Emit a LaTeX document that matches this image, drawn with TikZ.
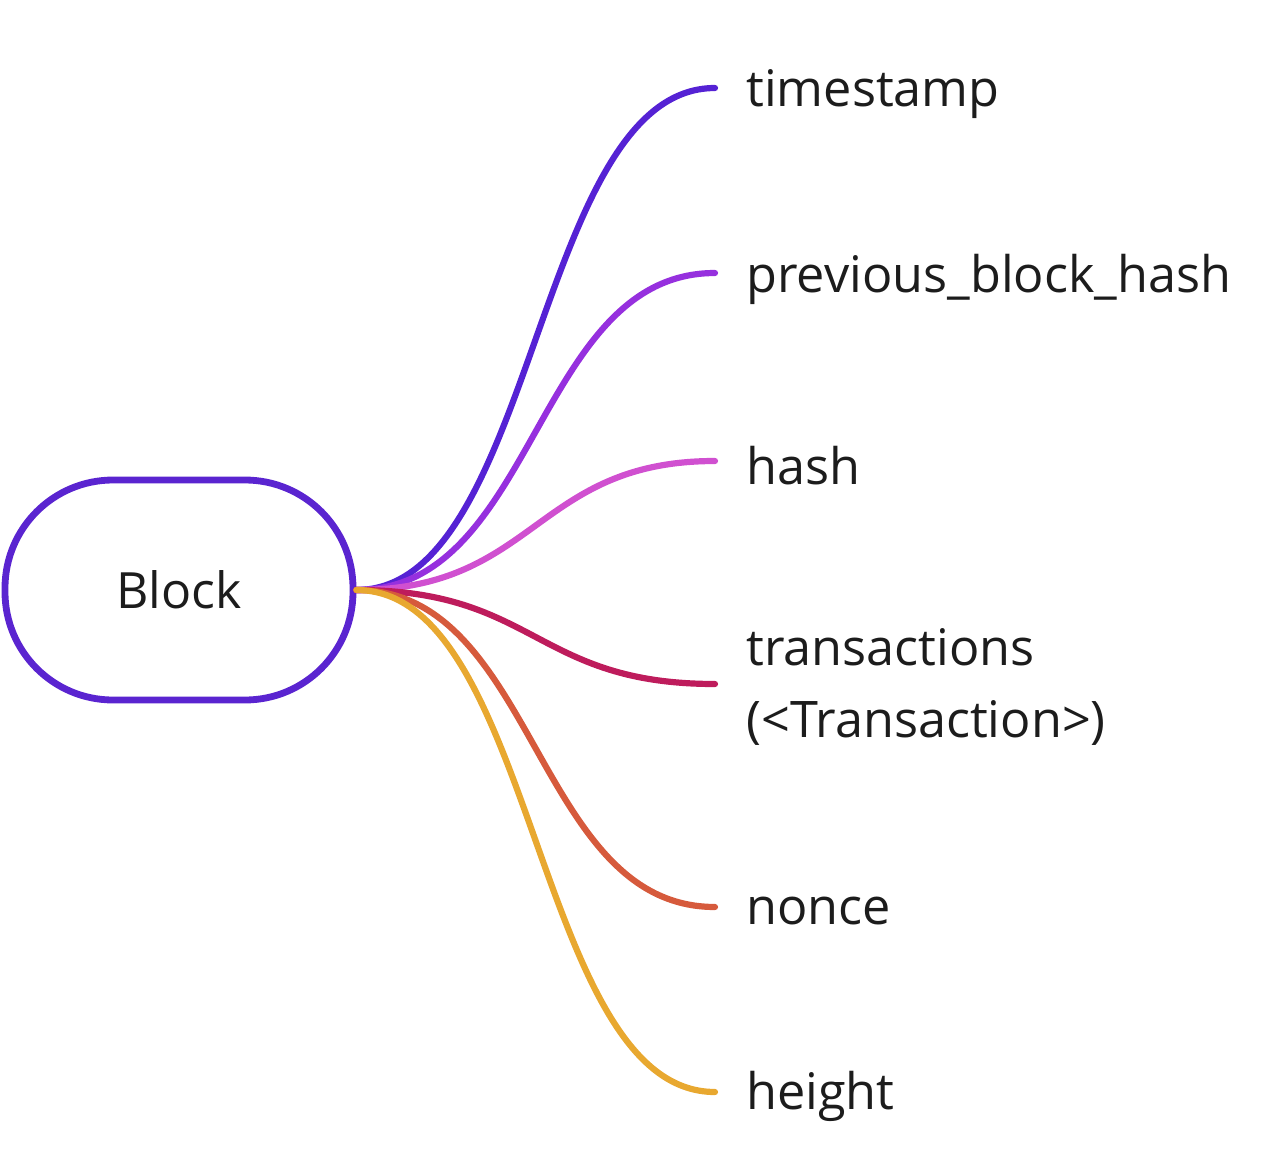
\documentclass[tikz,border=0pt]{standalone}
\usepackage{fontspec}
\setmainfont{Open Sans}
\definecolor{cA}{HTML}{5522D4}
\definecolor{cB}{HTML}{9630DE}
\definecolor{cC}{HTML}{D050D0}
\definecolor{cD}{HTML}{BE1C5C}
\definecolor{cE}{HTML}{D65A3C}
\definecolor{cF}{HTML}{E8A830}
\definecolor{boxc}{HTML}{5A24D0}
\definecolor{txt}{HTML}{1C1C1C}
\begin{document}
\begin{tikzpicture}[x=0.5pt,y=-0.5pt,
  blockbox/.style={draw=boxc,line width=3.4pt,rounded corners=54pt,minimum width=174pt,minimum height=110pt,fill=white,text=txt,font=\fontsize{25}{30}\selectfont},
  leaf/.style={anchor=west,inner sep=0pt,text=txt,align=left,font=\fontsize{25.2}{36}\selectfont},
  branch/.style={line width=3.1pt,line cap=round}]
\useasboundingbox (0,0) rectangle (1282,1152);
\node[blockbox] (blk) at (179,590) {Block};
\coordinate (e1) at (715,88);
\coordinate (e2) at (715,273);
\coordinate (e3) at (715,461);
\coordinate (e4) at (715,684);
\coordinate (e5) at (715,907);
\coordinate (e6) at (715,1092);
\node[leaf] (t1) at (746,94) {timestamp};
\node[leaf] (t2) at (746,279) {previous\_block\_hash};
\node[leaf] (t3) at (746,466) {hash};
\node[leaf] (t4) at (746,687) {transactions\\(<Transaction>)};
\node[leaf] (t5) at (746,911) {nonce};
\node[leaf] (t6) at (746,1096) {height};
\draw[branch,cA] (blk.east) .. controls +(180,0) and +(-180,0) .. (e1);
\draw[branch,cB] (blk.east) .. controls +(180,0) and +(-180,0) .. (e2);
\draw[branch,cC] (blk.east) .. controls +(180,0) and +(-180,0) .. (e3);
\draw[branch,cD] (blk.east) .. controls +(180,0) and +(-180,0) .. (e4);
\draw[branch,cE] (blk.east) .. controls +(180,0) and +(-180,0) .. (e5);
\draw[branch,cF] (blk.east) .. controls +(180,0) and +(-180,0) .. (e6);
\end{tikzpicture}
\end{document}
